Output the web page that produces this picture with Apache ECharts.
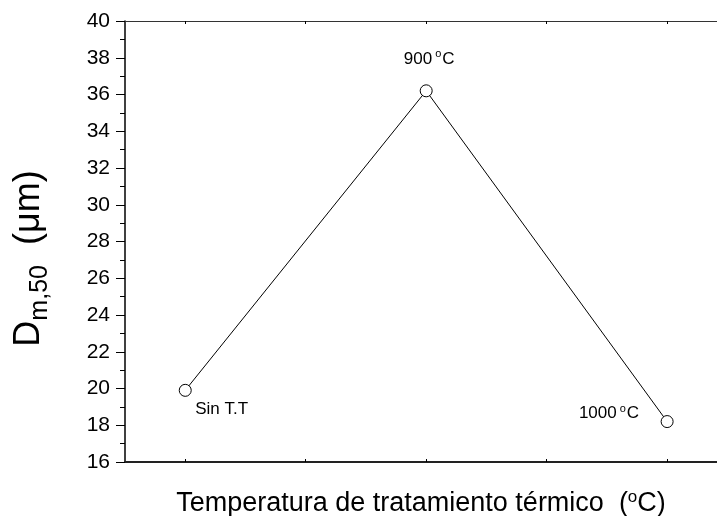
<!DOCTYPE html>
<html><head><meta charset="utf-8">
<script src="https://cdn.jsdelivr.net/npm/echarts@6/dist/echarts.min.js"></script>
<style>html,body{margin:0;padding:0;background:#fff}#c{width:717px;height:516px}</style>
</head><body><div id="c"></div>
<script>
var categories = ['Sin T.T', '900', '1000'];
var xPos = [1, 2, 3];
var values = [19.9, 36.2, 18.2];
var yTicks = [16, 18, 20, 22, 24, 26, 28, 30, 32, 34, 36, 38, 40];
var xTickPos = [1, 1.5, 2, 2.5, 3];

var chart = echarts.init(document.getElementById('c'));
var F = 'Liberation Sans, Arial, sans-serif';
var labelCfg = [
  {align: 'left', offset: [10, 19], text: '{a|Sin T.T}'},
  {align: 'center', offset: [3, -32], text: '{a|900}{s|o}{a|C}'},
  {align: 'right', offset: [-28, -8], text: '{a|1000}{s|o}{a|C}'}
];
var data = xPos.map(function (x, i) {
  return {
    value: [x, values[i]],
    name: categories[i],
    label: {show: true, position: 'inside', align: labelCfg[i].align, verticalAlign: 'middle',
      offset: labelCfg[i].offset,
      formatter: labelCfg[i].text,
      rich: {a: {fontFamily: F, fontSize: 17, color: '#000'},
             s: {fontFamily: F, fontSize: 11, color: '#000', verticalAlign: 'top', padding: [0, 1, 9, 3]}}}
  };
});
var rich = {
  big: {fontFamily: F, fontSize: 36, color: '#000'},
  sub: {fontFamily: F, fontSize: 25, color: '#000', padding: [22, 0, 0, 0]}
};
chart.setOption({
  animation: false,
  grid: {left: 125, right: 0, top: 21, bottom: 54, outerBoundsMode: 'none', containLabel: false},
  xAxis: [{
    type: 'value', min: 0.75, max: 3.207,
    axisLine: {show: true, onZero: false, lineStyle: {color: '#222', width: 2}},
    axisTick: {show: true, inside: true, length: 3, customValues: xTickPos, lineStyle: {color: '#000'}},
    axisLabel: {show: false},
    splitLine: {show: false},
    name: 'Temperatura de tratamiento térmico  ({s|o}C)',
    nameLocation: 'middle', nameGap: 27,
    nameTextStyle: {fontFamily: F, fontSize: 27, color: '#000', lineHeight: 30,
      rich: {s: {fontFamily: F, fontSize: 17, color: '#000', verticalAlign: 'top', lineHeight: 14, padding: [0, 0, 16, 0]}}}
  }, {
    type: 'value', min: 0.75, max: 3.207, position: 'top',
    axisLine: {show: true, onZero: false, lineStyle: {color: '#333', width: 1}},
    axisTick: {show: true, inside: true, length: 3, customValues: xTickPos, lineStyle: {color: '#000'}},
    axisLabel: {show: false}, splitLine: {show: false}
  }],
  yAxis: {
    type: 'value', min: 16, max: 40, interval: 2,
    axisLine: {show: true, onZero: false, lineStyle: {color: '#000', width: 1.5}},
    axisTick: {show: true, length: 9, lineStyle: {color: '#000', width: 1}},
    minorTick: {show: true, splitNumber: 2, length: 5, lineStyle: {color: '#000', width: 1}},
    axisLabel: {fontFamily: F, fontSize: 21, color: '#000', margin: 15,
      customValues: yTicks},
    splitLine: {show: false},
    name: '{big|D}{sub|m,50}{big|  (μm)}',
    nameLocation: 'middle', nameGap: 72, nameRotate: 90,
    nameTextStyle: {rich: rich, padding: [0, 34, 0, 0]}
  },
  series: [{
    type: 'line', data: data,
    symbol: 'circle', symbolSize: 12,
    itemStyle: {color: '#fff', borderColor: '#000', borderWidth: 1},
    lineStyle: {color: '#000', width: 1},
    z: 3
  }]
});
</script></body></html>
